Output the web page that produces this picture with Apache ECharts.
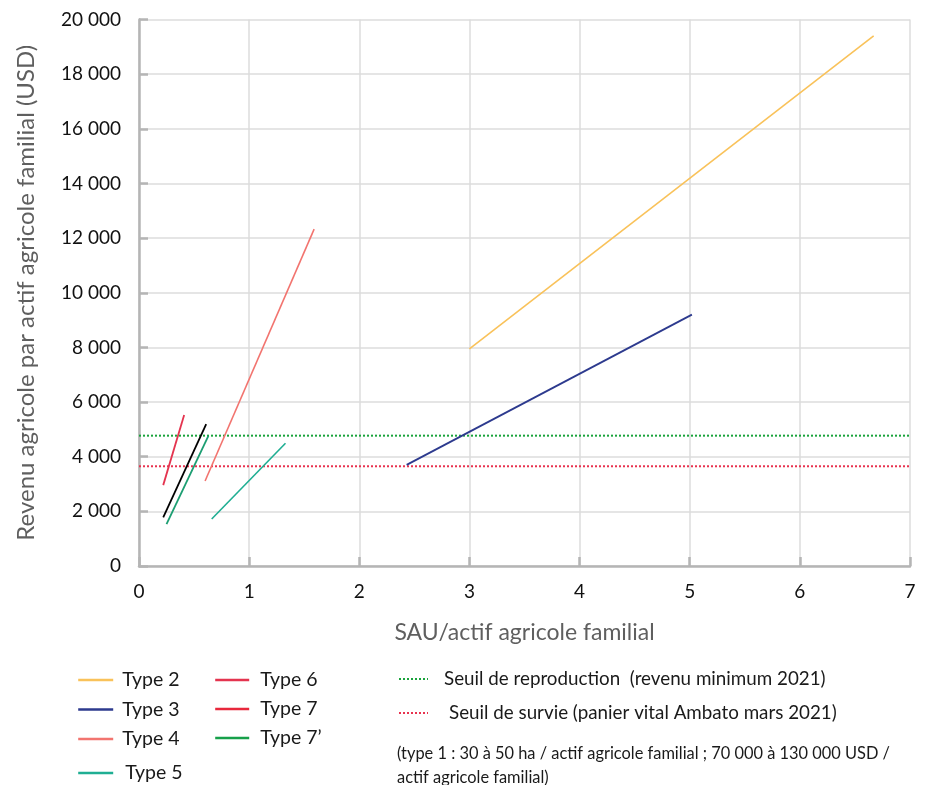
<!DOCTYPE html>
<html>
<head>
<meta charset="utf-8">
<script src="https://cdn.jsdelivr.net/npm/echarts@6/dist/echarts.min.js"></script>
<style>html,body{margin:0;padding:0;background:#fff}#c{width:927px;height:785px}</style>
</head>
<body>
<div id="c"></div>
<script>
// Data (SAU/actif in ha, revenu in USD)
var typeNames = ['Type 2', 'Type 3', 'Type 4', 'Type 5', 'Type 6', 'Type 7', 'Type 7\u2019'];
var type2 = [[3.0, 7950], [6.67, 19400]];
var type3 = [[2.43, 3700], [5.02, 9200]];
var type4 = [[0.60, 3110], [1.59, 12330]];
var type5 = [[0.66, 1720], [1.33, 4490]];
var type6 = [[0.22, 2960], [0.41, 5530]];
var type7 = [[0.22, 1780], [0.61, 5190]];
var type7b = [[0.25, 1530], [0.63, 4760]];
var thresholdNames = ['Seuil de reproduction  (revenu minimum 2021)', 'Seuil de survie (panier vital Ambato mars 2021)'];
var seuilReproduction = 4770;
var seuilSurvie = 3650;
var xTicks = [0, 1, 2, 3, 4, 5, 6, 7];
var yTicks = [0, 2000, 4000, 6000, 8000, 10000, 12000, 14000, 16000, 18000, 20000];
var noteText = '(type 1 : 30 à 50 ha / actif agricole familial ; 70 000 à 130 000 USD /\nactif agricole familial)';

var FONT = 'Lato';
var chart = echarts.init(document.getElementById('c'));

function seg(name, data, color, width) {
  return { name: name, type: 'line', data: data, symbol: 'none', showSymbol: false, silent: true,
    lineStyle: { color: color, width: width || 1.6 }, itemStyle: { color: color }, z: 3 };
}
function hline(name, value, color) {
  return { name: name, type: 'line', symbol: 'none', showSymbol: false, silent: true,
    data: [[xTicks[0], value], [xTicks[xTicks.length - 1], value]],
    lineStyle: { color: color, width: 2, type: [2, 2] }, itemStyle: { color: color }, z: 2 };
}
function legText(size, pad) {
  return { fontFamily: FONT, fontSize: size, color: '#1a1a1a', lineHeight: 20, padding: [0, 0, 0, pad] };
}
var legBase = { orient: 'vertical', padding: 0, itemHeight: 14, selectedMode: false, itemStyle: { opacity: 0 } };

var option = {
  animation: false,
  textStyle: { fontFamily: FONT },
  grid: { left: 139, right: 17, top: 19.5, bottom: 219, containLabel: false },
  xAxis: {
    type: 'value', min: 0, max: 7, interval: 1,
    name: 'SAU/actif agricole familial', nameLocation: 'middle', nameGap: 55,
    nameTextStyle: { fontFamily: FONT, fontSize: 23, color: '#5f5f5f' },
    axisLine: { show: true, lineStyle: { color: '#b5b5b5', width: 2.5 } },
    axisTick: { show: true, inside: true, length: 9, lineStyle: { color: '#b5b5b5', width: 2.5 } },
    axisLabel: { fontFamily: FONT, fontSize: 19, color: '#111', margin: 16 },
    splitLine: { show: true, lineStyle: { color: '#dcdcdc', width: 1.5 } }
  },
  yAxis: {
    type: 'value', min: 0, max: 20000, interval: 2000,
    name: 'Revenu agricole par actif agricole familial (USD)', nameLocation: 'middle', nameGap: 101, nameRotate: 90,
    nameTextStyle: { fontFamily: FONT, fontSize: 24, color: '#5f5f5f' },
    axisLine: { show: true, lineStyle: { color: '#b5b5b5', width: 2.5 } },
    axisTick: { show: true, inside: true, length: 9, lineStyle: { color: '#b5b5b5', width: 2.5 } },
    axisLabel: { fontFamily: FONT, fontSize: 19, color: '#111', margin: 18,
      formatter: function (v) { return String(v).replace(/\B(?=(\d{3})+(?!\d))/g, ' '); } },
    splitLine: { show: true, lineStyle: { color: '#dcdcdc', width: 1.5 } }
  },
  legend: [
    Object.assign({}, legBase, { left: 77, top: 670, itemWidth: 35, itemGap: 9.5, lineStyle: { width: 2.4 },
      data: [typeNames[0], typeNames[1], typeNames[2]], textStyle: legText(19.5, 4) }),
    Object.assign({}, legBase, { left: 77, top: 763, itemWidth: 35, lineStyle: { width: 2.4 },
      data: [typeNames[3]], textStyle: legText(19.5, 7) }),
    Object.assign({}, legBase, { left: 214, top: 670, itemWidth: 34, itemGap: 9, lineStyle: { width: 2.4 },
      data: [typeNames[4], { name: typeNames[5], lineStyle: { color: '#e8283c', width: 2.4 } }, { name: typeNames[6], lineStyle: { color: '#17a04a', width: 2.4 } }],
      textStyle: legText(19.5, 6) }),
    Object.assign({}, legBase, { left: 398, top: 669, itemWidth: 29, itemGap: 14,
      data: [thresholdNames[0], { name: thresholdNames[1], textStyle: { padding: [0, 0, 0, 16] } }],
      textStyle: legText(18.8, 11) })
  ],
  graphic: [
    { type: 'text', left: 397, top: 742, silent: true,
      style: { text: noteText, fontFamily: FONT, fontSize: 16.4, lineHeight: 24, fill: '#1a1a1a' } }
  ],
  series: [
    seg(typeNames[0], type2, '#f9c25a'),
    seg(typeNames[1], type3, '#2d3a8e', 1.8),
    seg(typeNames[2], type4, '#f2746f'),
    seg(typeNames[3], type5, '#1fae93'),
    seg(typeNames[4], type6, '#e4344f', 1.8),
    seg(typeNames[5], type7, '#000000', 1.8),
    seg(typeNames[6], type7b, '#1c9e72', 1.8),
    hline(thresholdNames[0], seuilReproduction, '#19a33b'),
    hline(thresholdNames[1], seuilSurvie, '#e8334f')
  ]
};
chart.setOption(option);
</script>
</body>
</html>
